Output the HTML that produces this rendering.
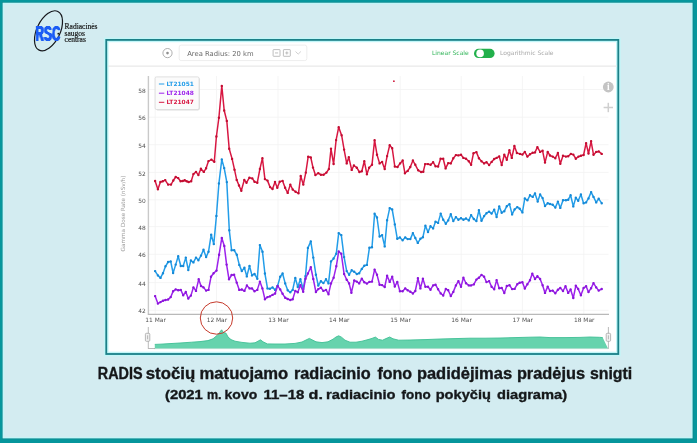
<!DOCTYPE html>
<html lang="lt">
<head>
<meta charset="utf-8">
<title>RADIS stočių matuojamo radiacinio fono padidėjimas</title>
<style>
html,body{margin:0;padding:0;background:#d3ecf1;}
body{width:697px;height:443px;overflow:hidden;}
svg{display:block;}
.ax text{font-family:"DejaVu Sans","Liberation Sans",sans-serif;font-size:5.9px;fill:#505050;}
.t1{font-family:"Liberation Sans",sans-serif;font-weight:bold;font-size:15.8px;fill:#14171a;stroke:#14171a;stroke-width:0.35px;}
.t2{font-family:"Liberation Sans",sans-serif;font-weight:bold;font-size:13.6px;fill:#14171a;stroke:#14171a;stroke-width:0.35px;}
.lg{font-family:"Liberation Serif",serif;font-size:7.5px;fill:#151515;stroke:#151515;stroke-width:0.18px;}
.ui{font-family:"DejaVu Sans","Liberation Sans",sans-serif;}
</style>
</head>
<body>
<svg width="697" height="443" viewBox="0 0 697 443">
<defs>
<filter id="soft" x="-2%" y="-2%" width="104%" height="104%"><feGaussianBlur stdDeviation="0.55"/></filter>
<filter id="soft2" x="-2%" y="-10%" width="104%" height="120%"><feGaussianBlur stdDeviation="0.2"/></filter>
<filter id="fat" x="-10%" y="-10%" width="120%" height="120%" color-interpolation-filters="sRGB"><feGaussianBlur stdDeviation="0.8 0.05"/><feComponentTransfer><feFuncA type="linear" slope="3.5" intercept="-0.62"/></feComponentTransfer></filter>
</defs>
<!-- outer frame -->
<rect x="0" y="0" width="697" height="443" fill="#06969c"/>
<rect x="2.0" y="2.1" width="691.4" height="437.1" fill="#0b858c"/>
<rect x="2.6" y="2.7" width="690.0" height="435.7" fill="#c2f6f9"/>
<rect x="4.0" y="4.1" width="687.3" height="433.0" fill="#d3ecf1"/>

<!-- logo -->
<g filter="url(#soft2)">
<ellipse cx="48.5" cy="30.8" rx="11.6" ry="21.5" transform="rotate(25.8 48.5 30.8)" fill="none" stroke="#15181c" stroke-width="1.2"/>
<g filter="url(#fat)"><text transform="translate(35.7 41.4) scale(0.515 1)" x="0" y="0" letter-spacing="1.1" font-family="Liberation Sans, sans-serif" font-weight="bold" font-size="21.4" fill="#1a5cf5">RSC</text></g>
<circle cx="58.3" cy="33.7" r="0.9" fill="#10131a"/>
<text class="lg" x="64.6" y="28.9">Radiacinės</text>
<text class="lg" x="64.6" y="35.5">saugos</text>
<text class="lg" x="64.6" y="42.1">centras</text>
</g>

<g filter="url(#soft)">
<!-- chart panel -->
<rect x="106.25" y="39.9" width="512.05" height="314.1" fill="#ffffff" stroke="#c2f6f8" stroke-width="4.6"/>
<rect x="106.25" y="39.9" width="512.05" height="314.1" fill="none" stroke="#1a8088" stroke-width="1.8"/>

<!-- toolbar -->
<line x1="108" y1="66.2" x2="617" y2="66.2" stroke="#e9e9e9" stroke-width="1.2"/>
<g fill="none" stroke="#9a9a9a" stroke-width="0.8">
<circle cx="167.5" cy="53.1" r="4.6"/>
</g>
<circle cx="167.5" cy="53.1" r="1.3" fill="#8f8f8f"/>
<rect x="179.2" y="45.1" width="127.6" height="15.5" rx="2" fill="#fff" stroke="#e9e9e9" stroke-width="0.8"/>
<text class="ui" x="187.2" y="55.7" font-size="6.8" fill="#6a6a6a">Area Radius: 20 km</text>
<g fill="none" stroke="#adadad" stroke-width="0.8">
<rect x="273.1" y="49.6" width="6.9" height="6.7" rx="0.5"/>
<line x1="275" y1="52.95" x2="278.1" y2="52.95"/>
<rect x="283.4" y="49.6" width="6.9" height="6.7" rx="0.5"/>
<line x1="285.3" y1="52.95" x2="288.4" y2="52.95"/><line x1="286.85" y1="51.4" x2="286.85" y2="54.5"/>
<polyline points="295.5,51.5 298.2,54.1 300.9,51.5" stroke="#c4c4c4"/>
</g>
<text class="ui" x="432" y="55.4" font-size="6" fill="#2fb457">Linear Scale</text>
<rect x="474" y="48.8" width="20.6" height="9.2" rx="4.6" fill="#21b04b"/>
<circle cx="480.1" cy="53.4" r="3.8" fill="#fff"/>
<text class="ui" x="500" y="55.4" font-size="6" fill="#a9a9a9">Logarithmic Scale</text>

<!-- plot -->
<g>
<line x1="149" y1="89.5" x2="608.5" y2="89.5" stroke="#f2f2f2" stroke-width="0.8"/>
<line x1="149" y1="117.2" x2="608.5" y2="117.2" stroke="#f2f2f2" stroke-width="0.8"/>
<line x1="149" y1="144.7" x2="608.5" y2="144.7" stroke="#f2f2f2" stroke-width="0.8"/>
<line x1="149" y1="172.4" x2="608.5" y2="172.4" stroke="#f2f2f2" stroke-width="0.8"/>
<line x1="149" y1="199.8" x2="608.5" y2="199.8" stroke="#f2f2f2" stroke-width="0.8"/>
<line x1="149" y1="226.6" x2="608.5" y2="226.6" stroke="#f2f2f2" stroke-width="0.8"/>
<line x1="149" y1="254.3" x2="608.5" y2="254.3" stroke="#f2f2f2" stroke-width="0.8"/>
<line x1="149" y1="282.6" x2="608.5" y2="282.6" stroke="#f2f2f2" stroke-width="0.8"/>
<line x1="149" y1="310.3" x2="608.5" y2="310.3" stroke="#f2f2f2" stroke-width="0.8"/>
<line x1="155.2" y1="76" x2="155.2" y2="314" stroke="#f2f2f2" stroke-width="0.8"/>
<line x1="216.5" y1="76" x2="216.5" y2="314" stroke="#f2f2f2" stroke-width="0.8"/>
<line x1="278.0" y1="76" x2="278.0" y2="314" stroke="#f2f2f2" stroke-width="0.8"/>
<line x1="338.9" y1="76" x2="338.9" y2="314" stroke="#f2f2f2" stroke-width="0.8"/>
<line x1="400.2" y1="76" x2="400.2" y2="314" stroke="#f2f2f2" stroke-width="0.8"/>
<line x1="461.2" y1="76" x2="461.2" y2="314" stroke="#f2f2f2" stroke-width="0.8"/>
<line x1="522.4" y1="76" x2="522.4" y2="314" stroke="#f2f2f2" stroke-width="0.8"/>
<line x1="583.8" y1="76" x2="583.8" y2="314" stroke="#f2f2f2" stroke-width="0.8"/>
<line x1="148.4" y1="76" x2="148.4" y2="314.5" stroke="#c9c9c9" stroke-width="1.4"/>
<line x1="147.8" y1="314.4" x2="609" y2="314.4" stroke="#b9b9b9" stroke-width="1.2"/>
</g>
<g class="ax">
<text x="145.8" y="92.6" text-anchor="end">58</text>
<text x="145.8" y="120.3" text-anchor="end">56</text>
<text x="145.8" y="147.8" text-anchor="end">54</text>
<text x="145.8" y="175.5" text-anchor="end">52</text>
<text x="145.8" y="202.9" text-anchor="end">50</text>
<text x="145.8" y="229.7" text-anchor="end">48</text>
<text x="145.8" y="257.4" text-anchor="end">46</text>
<text x="145.8" y="285.7" text-anchor="end">44</text>
<text x="145.8" y="313.4" text-anchor="end">42</text>
<text x="155.6" y="322.4" text-anchor="middle">11 Mar</text>
<text x="216.9" y="322.4" text-anchor="middle">12 Mar</text>
<text x="278.4" y="322.4" text-anchor="middle">13 Mar</text>
<text x="339.3" y="322.4" text-anchor="middle">14 Mar</text>
<text x="400.6" y="322.4" text-anchor="middle">15 Mar</text>
<text x="461.6" y="322.4" text-anchor="middle">16 Mar</text>
<text x="522.8" y="322.4" text-anchor="middle">17 Mar</text>
<text x="584.2" y="322.4" text-anchor="middle">18 Mar</text>
<text transform="translate(125.3 213.5) rotate(-90)" text-anchor="middle" style="fill:#9a9a9a;font-size:5.7px">Gamma Dose Rate (nSv/h)</text>
</g>

<!-- series -->
<g fill="none" stroke-linejoin="round" stroke-linecap="round" stroke-width="1.5">
<polyline points="155.1,271.1 157.9,275.4 160.5,277.9 163.0,273.2 165.5,266.3 168.1,262.0 170.7,261.4 173.1,273.0 175.7,264.6 178.2,256.2 180.8,266.0 183.2,266.0 185.8,257.6 188.3,270.1 190.9,260.5 193.4,262.4 196.0,257.6 198.4,260.2 201.0,255.6 203.5,249.8 206.1,257.1 208.5,251.8 211.2,234.7 213.8,244.1 216.4,216.0 218.9,183.5 221.8,159.4 224.2,168.1 226.8,182.1 229.3,230.3 231.6,250.2 234.2,250.2 236.8,254.8 239.3,264.9 241.8,271.1 244.4,267.8 246.8,276.4 249.5,266.0 252.0,275.4 254.5,274.0 257.3,278.7 259.9,245.1 262.5,251.8 264.9,273.5 267.5,288.4 269.9,288.8 272.5,287.4 275.1,289.9 277.6,285.9 280.2,276.8 282.6,273.5 285.2,283.4 287.7,290.3 290.3,292.3 292.7,289.9 295.3,277.9 297.8,287.0 300.4,279.3 303.2,289.1 305.5,276.1 307.9,247.9 310.8,241.4 313.3,257.6 315.9,274.7 318.3,285.5 320.9,281.2 323.4,283.1 326.0,279.3 328.5,283.4 331.0,261.4 333.6,258.5 336.3,253.7 338.7,233.1 341.3,235.1 344.1,257.1 346.7,271.1 349.1,274.7 351.7,270.3 354.2,271.8 356.8,274.0 359.2,273.2 361.8,268.9 364.3,265.7 366.9,264.9 369.4,247.8 372.0,247.2 374.6,213.8 377.0,217.5 379.6,236.5 382.1,235.1 384.7,246.4 387.1,220.3 389.7,208.1 392.2,209.5 394.8,224.4 397.3,238.8 399.9,237.4 402.6,240.3 405.2,237.4 407.7,239.1 410.3,239.1 412.9,233.1 415.3,238.0 417.8,242.9 420.4,238.8 422.9,237.2 425.4,225.8 428.0,232.0 430.5,226.2 433.1,228.4 435.5,221.8 438.1,222.9 440.7,213.6 443.2,219.7 445.8,223.7 448.2,220.4 450.8,214.2 453.3,221.1 455.9,217.1 458.4,219.7 461.0,218.2 463.4,219.7 466.0,218.5 468.8,220.4 471.1,215.1 473.8,219.0 476.4,221.1 478.9,210.3 481.5,220.8 484.1,216.1 486.5,213.2 489.1,211.7 491.6,213.6 494.2,209.6 496.6,217.1 499.2,206.4 501.7,212.7 504.3,211.2 506.8,206.2 509.5,204.1 512.1,214.4 514.6,209.4 517.3,207.1 519.7,208.7 522.4,212.4 524.8,198.4 527.4,200.3 530.0,195.3 532.7,196.9 535.0,193.4 537.7,201.6 540.1,194.5 542.6,198.1 545.0,206.0 547.7,203.2 550.0,204.0 552.7,204.8 555.3,207.6 557.9,201.6 560.3,207.9 563.0,200.3 565.9,200.3 568.2,199.7 570.6,195.3 573.3,206.4 575.8,197.7 578.2,200.8 580.9,194.5 583.6,203.2 586.1,202.4 588.5,198.4 591.1,192.1 593.5,196.9 596.2,202.4 598.7,198.8 601.7,203.2" stroke="#239de9"/>
<path d="M155.1 271.1h0M157.9 275.4h0M160.5 277.9h0M163.0 273.2h0M165.5 266.3h0M168.1 262.0h0M170.7 261.4h0M173.1 273.0h0M175.7 264.6h0M178.2 256.2h0M180.8 266.0h0M183.2 266.0h0M185.8 257.6h0M188.3 270.1h0M190.9 260.5h0M193.4 262.4h0M196.0 257.6h0M198.4 260.2h0M201.0 255.6h0M203.5 249.8h0M206.1 257.1h0M208.5 251.8h0M211.2 234.7h0M213.8 244.1h0M216.4 216.0h0M218.9 183.5h0M221.8 159.4h0M224.2 168.1h0M226.8 182.1h0M229.3 230.3h0M231.6 250.2h0M234.2 250.2h0M236.8 254.8h0M239.3 264.9h0M241.8 271.1h0M244.4 267.8h0M246.8 276.4h0M249.5 266.0h0M252.0 275.4h0M254.5 274.0h0M257.3 278.7h0M259.9 245.1h0M262.5 251.8h0M264.9 273.5h0M267.5 288.4h0M269.9 288.8h0M272.5 287.4h0M275.1 289.9h0M277.6 285.9h0M280.2 276.8h0M282.6 273.5h0M285.2 283.4h0M287.7 290.3h0M290.3 292.3h0M292.7 289.9h0M295.3 277.9h0M297.8 287.0h0M300.4 279.3h0M303.2 289.1h0M305.5 276.1h0M307.9 247.9h0M310.8 241.4h0M313.3 257.6h0M315.9 274.7h0M318.3 285.5h0M320.9 281.2h0M323.4 283.1h0M326.0 279.3h0M328.5 283.4h0M331.0 261.4h0M333.6 258.5h0M336.3 253.7h0M338.7 233.1h0M341.3 235.1h0M344.1 257.1h0M346.7 271.1h0M349.1 274.7h0M351.7 270.3h0M354.2 271.8h0M356.8 274.0h0M359.2 273.2h0M361.8 268.9h0M364.3 265.7h0M366.9 264.9h0M369.4 247.8h0M372.0 247.2h0M374.6 213.8h0M377.0 217.5h0M379.6 236.5h0M382.1 235.1h0M384.7 246.4h0M387.1 220.3h0M389.7 208.1h0M392.2 209.5h0M394.8 224.4h0M397.3 238.8h0M399.9 237.4h0M402.6 240.3h0M405.2 237.4h0M407.7 239.1h0M410.3 239.1h0M412.9 233.1h0M415.3 238.0h0M417.8 242.9h0M420.4 238.8h0M422.9 237.2h0M425.4 225.8h0M428.0 232.0h0M430.5 226.2h0M433.1 228.4h0M435.5 221.8h0M438.1 222.9h0M440.7 213.6h0M443.2 219.7h0M445.8 223.7h0M448.2 220.4h0M450.8 214.2h0M453.3 221.1h0M455.9 217.1h0M458.4 219.7h0M461.0 218.2h0M463.4 219.7h0M466.0 218.5h0M468.8 220.4h0M471.1 215.1h0M473.8 219.0h0M476.4 221.1h0M478.9 210.3h0M481.5 220.8h0M484.1 216.1h0M486.5 213.2h0M489.1 211.7h0M491.6 213.6h0M494.2 209.6h0M496.6 217.1h0M499.2 206.4h0M501.7 212.7h0M504.3 211.2h0M506.8 206.2h0M509.5 204.1h0M512.1 214.4h0M514.6 209.4h0M517.3 207.1h0M519.7 208.7h0M522.4 212.4h0M524.8 198.4h0M527.4 200.3h0M530.0 195.3h0M532.7 196.9h0M535.0 193.4h0M537.7 201.6h0M540.1 194.5h0M542.6 198.1h0M545.0 206.0h0M547.7 203.2h0M550.0 204.0h0M552.7 204.8h0M555.3 207.6h0M557.9 201.6h0M560.3 207.9h0M563.0 200.3h0M565.9 200.3h0M568.2 199.7h0M570.6 195.3h0M573.3 206.4h0M575.8 197.7h0M578.2 200.8h0M580.9 194.5h0M583.6 203.2h0M586.1 202.4h0M588.5 198.4h0M591.1 192.1h0M593.5 196.9h0M596.2 202.4h0M598.7 198.8h0M601.7 203.2h0" stroke="#1789d6" stroke-width="2.44" stroke-linecap="round" fill="none"/>
<polyline points="155.1,296.1 157.9,303.6 160.5,302.1 163.0,300.7 165.5,300.0 168.1,299.5 170.7,297.1 173.1,291.3 175.7,289.4 178.2,290.3 180.8,289.9 183.2,295.2 185.8,292.0 188.3,298.5 190.9,295.6 193.4,287.4 196.0,290.9 198.7,279.3 201.0,286.0 203.5,287.4 206.1,290.6 208.5,289.9 211.0,276.8 213.6,273.2 216.5,270.6 219.1,254.7 221.8,237.9 224.3,246.0 226.6,264.6 229.0,279.3 231.6,275.0 234.1,274.7 236.7,282.6 239.3,289.9 241.8,289.5 244.4,290.9 246.9,285.5 249.6,288.4 252.0,288.4 254.5,291.3 257.3,289.9 259.9,281.6 262.4,288.4 264.9,299.2 267.5,297.1 269.9,296.4 272.5,294.9 275.1,293.5 277.6,285.9 280.2,289.4 282.6,293.8 285.2,297.8 287.7,299.0 290.3,300.0 292.7,299.2 295.3,290.9 297.8,292.3 300.4,285.1 303.2,291.7 305.5,278.7 307.9,273.5 310.8,267.2 313.3,279.0 315.9,292.0 318.3,289.1 320.9,287.7 323.4,290.9 326.0,289.9 328.5,294.2 331.0,283.4 333.6,277.8 336.3,266.3 338.7,251.5 341.3,253.7 344.1,274.0 346.7,279.7 349.1,283.4 351.4,292.7 354.2,280.5 356.8,281.6 359.2,283.4 361.8,278.7 364.3,282.2 366.9,283.6 369.4,281.9 372.0,281.6 374.6,269.6 377.0,274.7 379.6,284.8 382.1,285.1 384.7,287.0 387.1,275.8 389.7,281.9 392.2,276.8 394.8,286.5 397.3,281.9 399.9,291.3 402.6,291.3 405.2,288.4 407.7,290.3 410.3,291.7 412.9,293.5 415.3,291.0 417.9,278.3 420.4,288.4 422.9,278.7 425.4,286.8 428.0,286.8 430.5,289.7 433.1,285.4 435.5,284.7 438.1,289.3 440.7,293.4 443.2,295.5 445.8,289.0 448.2,290.2 450.8,296.0 453.3,291.9 455.9,285.4 458.4,281.1 461.0,286.8 463.4,277.7 466.0,283.2 468.8,285.4 471.1,285.4 473.8,284.4 476.4,279.6 478.9,277.7 481.5,274.9 484.1,276.7 486.5,282.1 489.1,281.1 491.6,286.8 494.2,289.3 496.6,280.1 499.2,288.3 501.7,287.9 504.3,293.0 506.8,286.0 509.5,285.2 512.1,289.1 514.6,288.9 517.3,284.2 519.7,282.7 522.4,282.2 524.8,288.5 527.4,284.2 530.0,280.3 532.3,273.6 535.0,279.0 537.4,276.3 540.1,279.0 542.6,285.3 545.0,292.9 547.7,286.6 550.0,291.0 552.7,290.6 555.3,293.2 557.9,289.8 560.3,287.9 563.0,291.0 565.5,286.3 568.2,292.9 570.6,289.5 573.3,298.0 575.8,285.8 578.2,289.0 580.9,295.3 583.6,287.9 586.1,286.3 588.5,292.1 591.1,288.2 593.5,283.1 596.2,287.4 598.7,290.6 601.7,289.0" stroke="#9d22ec"/>
<path d="M155.1 296.1h0M157.9 303.6h0M160.5 302.1h0M163.0 300.7h0M165.5 300.0h0M168.1 299.5h0M170.7 297.1h0M173.1 291.3h0M175.7 289.4h0M178.2 290.3h0M180.8 289.9h0M183.2 295.2h0M185.8 292.0h0M188.3 298.5h0M190.9 295.6h0M193.4 287.4h0M196.0 290.9h0M198.7 279.3h0M201.0 286.0h0M203.5 287.4h0M206.1 290.6h0M208.5 289.9h0M211.0 276.8h0M213.6 273.2h0M216.5 270.6h0M219.1 254.7h0M221.8 237.9h0M224.3 246.0h0M226.6 264.6h0M229.0 279.3h0M231.6 275.0h0M234.1 274.7h0M236.7 282.6h0M239.3 289.9h0M241.8 289.5h0M244.4 290.9h0M246.9 285.5h0M249.6 288.4h0M252.0 288.4h0M254.5 291.3h0M257.3 289.9h0M259.9 281.6h0M262.4 288.4h0M264.9 299.2h0M267.5 297.1h0M269.9 296.4h0M272.5 294.9h0M275.1 293.5h0M277.6 285.9h0M280.2 289.4h0M282.6 293.8h0M285.2 297.8h0M287.7 299.0h0M290.3 300.0h0M292.7 299.2h0M295.3 290.9h0M297.8 292.3h0M300.4 285.1h0M303.2 291.7h0M305.5 278.7h0M307.9 273.5h0M310.8 267.2h0M313.3 279.0h0M315.9 292.0h0M318.3 289.1h0M320.9 287.7h0M323.4 290.9h0M326.0 289.9h0M328.5 294.2h0M331.0 283.4h0M333.6 277.8h0M336.3 266.3h0M338.7 251.5h0M341.3 253.7h0M344.1 274.0h0M346.7 279.7h0M349.1 283.4h0M351.4 292.7h0M354.2 280.5h0M356.8 281.6h0M359.2 283.4h0M361.8 278.7h0M364.3 282.2h0M366.9 283.6h0M369.4 281.9h0M372.0 281.6h0M374.6 269.6h0M377.0 274.7h0M379.6 284.8h0M382.1 285.1h0M384.7 287.0h0M387.1 275.8h0M389.7 281.9h0M392.2 276.8h0M394.8 286.5h0M397.3 281.9h0M399.9 291.3h0M402.6 291.3h0M405.2 288.4h0M407.7 290.3h0M410.3 291.7h0M412.9 293.5h0M415.3 291.0h0M417.9 278.3h0M420.4 288.4h0M422.9 278.7h0M425.4 286.8h0M428.0 286.8h0M430.5 289.7h0M433.1 285.4h0M435.5 284.7h0M438.1 289.3h0M440.7 293.4h0M443.2 295.5h0M445.8 289.0h0M448.2 290.2h0M450.8 296.0h0M453.3 291.9h0M455.9 285.4h0M458.4 281.1h0M461.0 286.8h0M463.4 277.7h0M466.0 283.2h0M468.8 285.4h0M471.1 285.4h0M473.8 284.4h0M476.4 279.6h0M478.9 277.7h0M481.5 274.9h0M484.1 276.7h0M486.5 282.1h0M489.1 281.1h0M491.6 286.8h0M494.2 289.3h0M496.6 280.1h0M499.2 288.3h0M501.7 287.9h0M504.3 293.0h0M506.8 286.0h0M509.5 285.2h0M512.1 289.1h0M514.6 288.9h0M517.3 284.2h0M519.7 282.7h0M522.4 282.2h0M524.8 288.5h0M527.4 284.2h0M530.0 280.3h0M532.3 273.6h0M535.0 279.0h0M537.4 276.3h0M540.1 279.0h0M542.6 285.3h0M545.0 292.9h0M547.7 286.6h0M550.0 291.0h0M552.7 290.6h0M555.3 293.2h0M557.9 289.8h0M560.3 287.9h0M563.0 291.0h0M565.5 286.3h0M568.2 292.9h0M570.6 289.5h0M573.3 298.0h0M575.8 285.8h0M578.2 289.0h0M580.9 295.3h0M583.6 287.9h0M586.1 286.3h0M588.5 292.1h0M591.1 288.2h0M593.5 283.1h0M596.2 287.4h0M598.7 290.6h0M601.7 289.0h0" stroke="#8a14d9" stroke-width="2.44" stroke-linecap="round" fill="none"/>
<polyline points="155.1,181.0 157.9,189.2 160.4,182.0 162.8,181.2 165.2,180.1 168.1,184.6 171.0,184.6 173.3,180.5 175.7,177.0 178.2,178.1 180.6,181.3 182.7,181.0 184.7,180.3 186.7,181.2 188.7,182.0 191.2,181.3 193.4,174.1 196.0,171.9 198.4,175.1 200.9,168.7 203.8,171.9 206.1,168.3 208.5,161.1 211.4,159.6 214.3,161.8 216.4,136.5 218.9,117.7 221.8,85.9 224.2,110.5 226.8,120.9 229.2,148.8 232.1,158.9 234.5,169.7 236.7,179.9 239.0,185.5 241.3,190.7 244.3,179.9 246.5,182.7 249.4,177.7 252.3,178.4 254.5,181.7 257.3,182.7 259.9,169.0 262.4,158.2 264.9,179.1 267.5,180.6 270.1,187.1 272.5,189.0 275.0,182.0 277.3,187.8 279.7,181.7 282.6,180.9 285.1,187.8 287.7,192.9 290.3,184.6 292.7,189.5 295.6,191.8 298.5,193.3 300.7,176.0 303.3,184.6 305.8,172.6 308.2,156.7 310.8,157.5 313.0,167.6 315.4,175.1 318.3,173.1 320.9,174.8 323.5,174.8 326.4,172.6 328.9,169.0 331.0,148.8 333.6,164.0 336.1,140.1 338.7,127.2 341.6,135.2 344.1,149.6 346.7,163.4 348.8,157.3 351.7,169.9 353.9,165.5 356.8,167.7 359.4,172.0 361.8,171.3 364.3,161.2 366.9,174.2 369.1,167.7 372.0,164.8 374.6,140.2 377.0,154.7 379.6,163.4 382.1,161.9 384.7,169.1 387.1,156.1 389.7,145.3 392.2,148.2 394.8,166.5 397.5,167.0 400.1,163.4 402.7,160.5 404.9,173.2 407.7,170.9 410.3,167.0 412.9,160.5 415.3,164.8 418.2,170.3 421.1,172.0 423.3,171.7 425.1,164.1 428.0,164.1 430.6,164.8 433.1,162.2 435.5,166.2 438.1,166.5 440.6,158.7 443.2,158.7 445.6,168.4 448.2,163.1 450.8,163.4 453.3,158.3 455.9,155.1 458.4,155.4 461.0,154.7 463.4,157.9 466.0,158.7 468.8,161.2 471.1,164.8 473.5,153.2 476.4,152.1 478.9,158.3 481.5,161.2 484.1,163.4 486.5,162.2 489.1,165.1 491.6,161.9 494.2,159.0 496.6,157.9 499.2,156.4 501.7,165.1 504.3,154.7 506.8,159.7 509.4,150.3 511.8,157.9 514.4,146.0 516.9,153.0 520.0,153.9 522.4,154.6 524.8,151.9 527.4,156.6 530.0,154.3 532.7,152.7 535.0,152.4 537.4,147.1 540.1,151.9 542.6,150.8 545.0,162.6 547.7,151.9 550.0,155.5 552.7,156.6 555.3,158.2 557.9,153.0 560.3,163.7 563.0,155.8 565.9,156.6 568.2,156.2 570.9,153.9 573.3,154.6 575.8,158.7 578.5,156.6 580.9,155.8 583.6,155.0 586.1,143.2 588.5,153.5 591.1,141.3 593.5,154.7 596.2,151.9 598.7,151.4 601.7,153.9" stroke="#d81943"/>
<path d="M155.1 181.0h0M157.9 189.2h0M160.4 182.0h0M162.8 181.2h0M165.2 180.1h0M168.1 184.6h0M171.0 184.6h0M173.3 180.5h0M175.7 177.0h0M178.2 178.1h0M180.6 181.3h0M182.7 181.0h0M184.7 180.3h0M186.7 181.2h0M188.7 182.0h0M191.2 181.3h0M193.4 174.1h0M196.0 171.9h0M198.4 175.1h0M200.9 168.7h0M203.8 171.9h0M206.1 168.3h0M208.5 161.1h0M211.4 159.6h0M214.3 161.8h0M216.4 136.5h0M218.9 117.7h0M221.8 85.9h0M224.2 110.5h0M226.8 120.9h0M229.2 148.8h0M232.1 158.9h0M234.5 169.7h0M236.7 179.9h0M239.0 185.5h0M241.3 190.7h0M244.3 179.9h0M246.5 182.7h0M249.4 177.7h0M252.3 178.4h0M254.5 181.7h0M257.3 182.7h0M259.9 169.0h0M262.4 158.2h0M264.9 179.1h0M267.5 180.6h0M270.1 187.1h0M272.5 189.0h0M275.0 182.0h0M277.3 187.8h0M279.7 181.7h0M282.6 180.9h0M285.1 187.8h0M287.7 192.9h0M290.3 184.6h0M292.7 189.5h0M295.6 191.8h0M298.5 193.3h0M300.7 176.0h0M303.3 184.6h0M305.8 172.6h0M308.2 156.7h0M310.8 157.5h0M313.0 167.6h0M315.4 175.1h0M318.3 173.1h0M320.9 174.8h0M323.5 174.8h0M326.4 172.6h0M328.9 169.0h0M331.0 148.8h0M333.6 164.0h0M336.1 140.1h0M338.7 127.2h0M341.6 135.2h0M344.1 149.6h0M346.7 163.4h0M348.8 157.3h0M351.7 169.9h0M353.9 165.5h0M356.8 167.7h0M359.4 172.0h0M361.8 171.3h0M364.3 161.2h0M366.9 174.2h0M369.1 167.7h0M372.0 164.8h0M374.6 140.2h0M377.0 154.7h0M379.6 163.4h0M382.1 161.9h0M384.7 169.1h0M387.1 156.1h0M389.7 145.3h0M392.2 148.2h0M394.8 166.5h0M397.5 167.0h0M400.1 163.4h0M402.7 160.5h0M404.9 173.2h0M407.7 170.9h0M410.3 167.0h0M412.9 160.5h0M415.3 164.8h0M418.2 170.3h0M421.1 172.0h0M423.3 171.7h0M425.1 164.1h0M428.0 164.1h0M430.6 164.8h0M433.1 162.2h0M435.5 166.2h0M438.1 166.5h0M440.6 158.7h0M443.2 158.7h0M445.6 168.4h0M448.2 163.1h0M450.8 163.4h0M453.3 158.3h0M455.9 155.1h0M458.4 155.4h0M461.0 154.7h0M463.4 157.9h0M466.0 158.7h0M468.8 161.2h0M471.1 164.8h0M473.5 153.2h0M476.4 152.1h0M478.9 158.3h0M481.5 161.2h0M484.1 163.4h0M486.5 162.2h0M489.1 165.1h0M491.6 161.9h0M494.2 159.0h0M496.6 157.9h0M499.2 156.4h0M501.7 165.1h0M504.3 154.7h0M506.8 159.7h0M509.4 150.3h0M511.8 157.9h0M514.4 146.0h0M516.9 153.0h0M520.0 153.9h0M522.4 154.6h0M524.8 151.9h0M527.4 156.6h0M530.0 154.3h0M532.7 152.7h0M535.0 152.4h0M537.4 147.1h0M540.1 151.9h0M542.6 150.8h0M545.0 162.6h0M547.7 151.9h0M550.0 155.5h0M552.7 156.6h0M555.3 158.2h0M557.9 153.0h0M560.3 163.7h0M563.0 155.8h0M565.9 156.6h0M568.2 156.2h0M570.9 153.9h0M573.3 154.6h0M575.8 158.7h0M578.5 156.6h0M580.9 155.8h0M583.6 155.0h0M586.1 143.2h0M588.5 153.5h0M591.1 141.3h0M593.5 154.7h0M596.2 151.9h0M598.7 151.4h0M601.7 153.9h0" stroke="#c30f33" stroke-width="2.44" stroke-linecap="round" fill="none"/>
</g>
<circle cx="393.9" cy="81.2" r="0.9" fill="#d01a3c"/>

<!-- legend -->
<rect x="155.9" y="77.7" width="44" height="32.7" rx="1.8" fill="#c8c8c8" fill-opacity="0.55"/>
<rect x="155.1" y="76.9" width="44" height="32.7" rx="1.6" fill="#fcfcfc" fill-opacity="0.94" stroke="#d8d8d8" stroke-width="0.8"/>
<g class="ui" font-size="5.9" font-weight="bold">
<line x1="158.9" y1="84" x2="164.3" y2="84" stroke="#239de9" stroke-width="1"/>
<text x="166.6" y="86" fill="#239de9">LT21051</text>
<line x1="158.9" y1="93.2" x2="164.3" y2="93.2" stroke="#9d22ec" stroke-width="1"/>
<text x="166.6" y="95.2" fill="#9d22ec">LT21048</text>
<line x1="158.9" y1="102.3" x2="164.3" y2="102.3" stroke="#d81943" stroke-width="1"/>
<text x="166.6" y="104.3" fill="#d81943">LT21047</text>
</g>

<!-- side icons -->
<circle cx="608.3" cy="87" r="5.4" fill="#c4c4c4"/>
<text x="608.3" y="90.4" text-anchor="middle" font-family="Liberation Serif, serif" font-weight="bold" font-size="9.5" fill="#fff">i</text>
<g stroke="#cfcfcf" stroke-width="1.5"><line x1="603.6" y1="107.5" x2="613" y2="107.5"/><line x1="608.3" y1="102.8" x2="608.3" y2="112.2"/></g>

<!-- navigator -->
<path d="M154.8 348.5 L154.8 344.4 L160.0 344.2 L170.0 343.6 L180.0 343.0 L191.7 342.2 L200.0 341.6 L208.0 340.6 L213.0 338.8 L217.0 335.5 L219.5 332.5 L221.6 329.8 L223.5 332.5 L226.0 333.2 L228.0 337.0 L231.0 339.6 L235.0 341.2 L242.0 342.4 L250.0 343.2 L255.0 342.8 L258.0 341.2 L260.5 339.8 L263.0 341.8 L267.4 343.9 L275.0 344.0 L285.0 344.0 L295.0 343.4 L302.0 342.0 L306.0 340.0 L309.4 338.4 L312.0 339.8 L316.0 341.8 L322.0 342.6 L328.0 341.8 L333.0 339.2 L336.0 337.0 L338.7 335.8 L341.5 337.2 L345.0 340.2 L350.0 342.2 L356.0 342.2 L362.0 341.2 L368.0 339.6 L372.0 338.4 L375.4 337.1 L378.5 339.4 L382.5 340.2 L386.0 338.6 L389.7 337.0 L393.0 338.8 L398.7 340.2 L410.0 340.0 L425.0 339.6 L440.0 339.0 L455.0 338.6 L470.0 338.2 L485.0 338.2 L500.0 338.0 L515.0 337.6 L530.0 337.2 L540.0 337.0 L550.0 337.6 L565.0 337.6 L580.0 337.4 L590.0 337.0 L599.5 337.3 L602.7 337.6 L608.0 348.5 Z" fill="#66d3ad"/>
<path d="M154.8 344.4 L160.0 344.2 L170.0 343.6 L180.0 343.0 L191.7 342.2 L200.0 341.6 L208.0 340.6 L213.0 338.8 L217.0 335.5 L219.5 332.5 L221.6 329.8 L223.5 332.5 L226.0 333.2 L228.0 337.0 L231.0 339.6 L235.0 341.2 L242.0 342.4 L250.0 343.2 L255.0 342.8 L258.0 341.2 L260.5 339.8 L263.0 341.8 L267.4 343.9 L275.0 344.0 L285.0 344.0 L295.0 343.4 L302.0 342.0 L306.0 340.0 L309.4 338.4 L312.0 339.8 L316.0 341.8 L322.0 342.6 L328.0 341.8 L333.0 339.2 L336.0 337.0 L338.7 335.8 L341.5 337.2 L345.0 340.2 L350.0 342.2 L356.0 342.2 L362.0 341.2 L368.0 339.6 L372.0 338.4 L375.4 337.1 L378.5 339.4 L382.5 340.2 L386.0 338.6 L389.7 337.0 L393.0 338.8 L398.7 340.2 L410.0 340.0 L425.0 339.6 L440.0 339.0 L455.0 338.6 L470.0 338.2 L485.0 338.2 L500.0 338.0 L515.0 337.6 L530.0 337.2 L540.0 337.0 L550.0 337.6 L565.0 337.6 L580.0 337.4 L590.0 337.0 L599.5 337.3 L602.7 337.6" fill="none" stroke="#3fbf95" stroke-width="0.9"/>
<line x1="154" y1="348.6" x2="608.4" y2="348.6" stroke="#9fd9c4" stroke-width="0.7"/>
<g stroke="#9c9c9c" stroke-width="0.7" fill="#f2f2f2">
<line x1="148.3" y1="327" x2="148.3" y2="348.8"/>
<line x1="148.3" y1="348.5" x2="155" y2="348.5"/>
<rect x="145.4" y="333.3" width="4.4" height="8" rx="1"/>
<line x1="147.6" y1="335.3" x2="147.6" y2="339.3"/>
<line x1="608.4" y1="327" x2="608.4" y2="348.8"/>
<rect x="606.2" y="333.3" width="4.4" height="8" rx="1"/>
<line x1="608.4" y1="335.3" x2="608.4" y2="339.3"/>
</g>

<!-- annotation circle -->
<circle cx="216.5" cy="318" r="16.2" fill="none" stroke="#c63a2b" stroke-width="1"/>

</g>
<!-- caption -->
<g filter="url(#soft2)">
<text class="t1" y="379.1"><tspan x="97.8" textLength="44.8" lengthAdjust="spacingAndGlyphs">RADIS</tspan> <tspan x="145.7" textLength="49.5" lengthAdjust="spacingAndGlyphs">stočių</tspan> <tspan x="199.6" textLength="88.6" lengthAdjust="spacingAndGlyphs">matuojamo</tspan> <tspan x="293.9" textLength="76.9" lengthAdjust="spacingAndGlyphs">radiacinio</tspan> <tspan x="377.4" textLength="34.7" lengthAdjust="spacingAndGlyphs">fono</tspan> <tspan x="416.9" textLength="95.2" lengthAdjust="spacingAndGlyphs">padidėjimas</tspan> <tspan x="516.9" textLength="68.1" lengthAdjust="spacingAndGlyphs">pradėjus</tspan> <tspan x="589.9" textLength="42.3" lengthAdjust="spacingAndGlyphs">snigti</tspan></text>
<text class="t2" y="399.3"><tspan x="165.0" textLength="37.8" lengthAdjust="spacingAndGlyphs">(2021</tspan> <tspan x="206.9" textLength="14.6" lengthAdjust="spacingAndGlyphs">m.</tspan> <tspan x="224.6" textLength="32.6" lengthAdjust="spacingAndGlyphs">kovo</tspan> <tspan x="263.4" textLength="41.0" lengthAdjust="spacingAndGlyphs">11–18</tspan> <tspan x="308.6" textLength="14.3" lengthAdjust="spacingAndGlyphs">d.</tspan> <tspan x="326.0" textLength="69.5" lengthAdjust="spacingAndGlyphs">radiacinio</tspan> <tspan x="401.5" textLength="29.2" lengthAdjust="spacingAndGlyphs">fono</tspan> <tspan x="435.7" textLength="55.3" lengthAdjust="spacingAndGlyphs">pokyčių</tspan> <tspan x="497.0" textLength="70.1" lengthAdjust="spacingAndGlyphs">diagrama)</tspan></text>
</g>
</svg>
</body>
</html>
